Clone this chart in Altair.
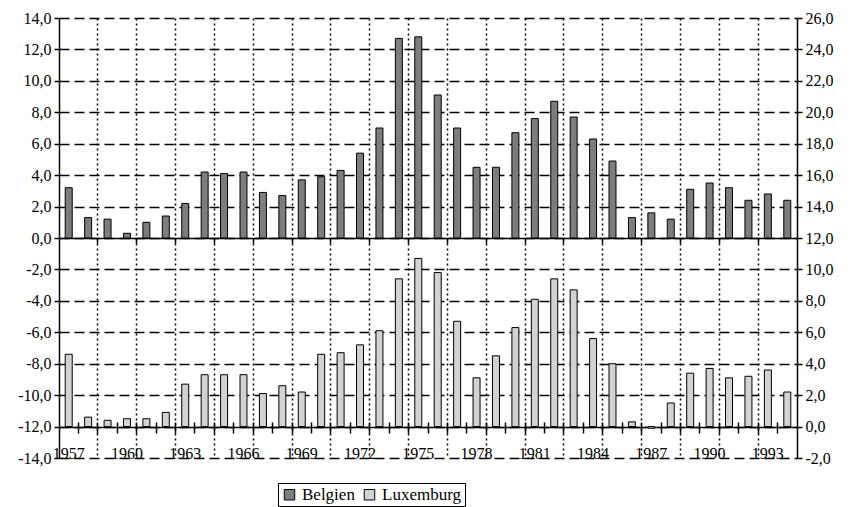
import altair as alt
import pandas as pd

years = list(range(1957, 1995))
belgien = [3.2, 1.3, 1.2, 0.3, 1.0, 1.4, 2.2, 4.2, 4.1, 4.2, 2.9, 2.7, 3.7, 3.9, 4.3, 5.4, 7.0, 12.7, 12.8,
           9.1, 7.0, 4.5, 4.5, 6.7, 7.6, 8.7, 7.7, 6.3, 4.9, 1.3, 1.6, 1.2, 3.1, 3.5, 3.2, 2.4, 2.8, 2.4]
luxemburg = [4.6, 0.6, 0.4, 0.5, 0.5, 0.9, 2.7, 3.3, 3.3, 3.3, 2.1, 2.6, 2.2, 4.6, 4.7, 5.2, 6.1, 9.4, 10.7,
             9.8, 6.7, 3.1, 4.5, 6.3, 8.1, 9.4, 8.7, 5.6, 4.0, 0.3, -0.1, 1.5, 3.4, 3.7, 3.1, 3.2, 3.6, 2.2]
series_names = ["Belgien", "Luxemburg"]
series_colors = ["#7d7d7d", "#d2d2d2"]
left_ticks = list(range(-14, 15, 2))
right_ticks = list(range(-2, 27, 2))
year_labels = list(range(1957, 1995, 3))
grid_years = list(range(1959, 1995, 2))
boundary_years = years[1:]

df = pd.DataFrame({"year": years, "Belgien": belgien, "Luxemburg": luxemburg})

FONT = "Liberation Serif, Times New Roman, serif"
num_expr = "(datum.value < 0 ? '-' : '') + replace(format(abs(datum.value), '.1f'), '.', ',')"

xscale = alt.Scale(paddingInner=0, paddingOuter=0)
cscale = alt.Scale(domain=series_names, range=series_colors)
legend = alt.Legend(title=None, orient="none", legendX=219, legendY=465, direction="horizontal",
                    strokeColor="black", padding=3, labelFont=FONT, labelFontSize=17,
                    labelColor="black", symbolType="square", symbolSize=110,
                    symbolStrokeColor="black", symbolStrokeWidth=1, columnPadding=6)

H = 440

# Belgium bars (left axis), vertical dotted grid
bel = alt.Chart(df).transform_calculate(series="'Belgien'").mark_bar(
    width=alt.RelativeBandSize(0.36), stroke="black", strokeWidth=1
).encode(
    x=alt.X("year:O", scale=xscale,
            axis=alt.Axis(orient="bottom", title=None, labels=False, ticks=False, domain=False,
                          grid=True, gridDash=[2, 3], gridWidth=1.5, gridColor="black",
                          bandPosition=0, values=grid_years)),
    y=alt.Y("Belgien:Q", scale=alt.Scale(domain=[-14, 14], nice=False),
            axis=alt.Axis(orient="left", title=None, values=left_ticks, labelExpr=num_expr,
                          labelFont=FONT, labelFontSize=16, labelColor="black", labelPadding=3,
                          domain=True, domainColor="black", domainWidth=1.5,
                          ticks=True, tickColor="black", tickSize=5, tickWidth=1.5,
                          grid=True, gridDash=[10, 5], gridColor="black", gridWidth=1.5,
                          gridOpacity=1)),
    color=alt.Color("series:N", scale=cscale, legend=legend),
)

# Luxembourg bars (right axis), year labels + axis line at right-0
lux = alt.Chart(df).transform_calculate(series="'Luxemburg'").mark_bar(
    width=alt.RelativeBandSize(0.36), stroke="black", strokeWidth=1
).encode(
    x=alt.X("year:O", scale=xscale,
            axis=alt.Axis(orient="bottom", title=None, offset=-31, values=year_labels,
                          labelAngle=0, labelFont=FONT, labelFontSize=16, labelColor="black",
                          labelPadding=18, ticks=False, grid=False,
                          domain=True, domainColor="black", domainWidth=1.5)),
    y=alt.Y("Luxemburg:Q", scale=alt.Scale(domain=[-2, 26], nice=False),
            axis=alt.Axis(orient="right", title=None, values=right_ticks, labelExpr=num_expr,
                          labelFont=FONT, labelFontSize=16, labelColor="black", labelPadding=3,
                          domain=True, domainColor="black", domainWidth=1.5,
                          ticks=True, tickColor="black", tickSize=5, tickWidth=1.5, grid=False)),
    color=alt.Color("series:N", scale=cscale, legend=legend),
)

# category boundary ticks crossing the lower axis line
ticks_low = alt.Chart(df).mark_bar(opacity=0).encode(
    x=alt.X("year:O", scale=xscale,
            axis=alt.Axis(orient="bottom", title=None, offset=-36, values=boundary_years,
                          bandPosition=0, labels=False, domain=False, grid=False,
                          ticks=True, tickSize=11, tickColor="black", tickWidth=1.5)),
    y=alt.Y("Belgien:Q", scale=alt.Scale(domain=[-14, 14], nice=False), axis=None),
)

# zero line of the upper series with ticks
zero_line = alt.Chart(df).mark_bar(opacity=0).encode(
    x=alt.X("year:O", scale=xscale,
            axis=alt.Axis(orient="bottom", title=None, offset=-220, values=grid_years,
                          bandPosition=0, labels=False, grid=False,
                          domain=True, domainColor="black", domainWidth=1.5,
                          ticks=True, tickSize=5, tickColor="black", tickWidth=1.5)),
    y=alt.Y("Belgien:Q", scale=alt.Scale(domain=[-14, 14], nice=False), axis=None),
)

chart = alt.layer(ticks_low, zero_line, bel, lux).resolve_scale(
    y="independent"
).resolve_axis(x="independent", y="independent").properties(
    width=738, height=H, padding={"left": 9, "top": 2, "right": 5, "bottom": 5}
).configure_view(stroke=None)

chart.save("out.html", embed_options={"renderer": "svg", "actions": False})
